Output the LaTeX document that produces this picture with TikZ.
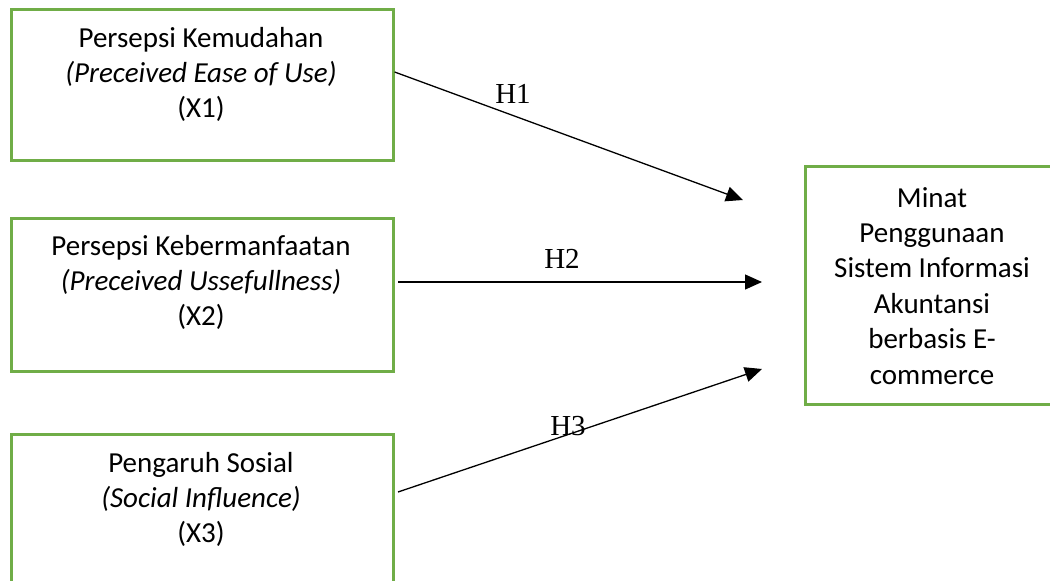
\documentclass[tikz,border=0pt]{standalone}
\usepackage{fontspec}
\setmainfont{Carlito}
\newfontfamily\timesfont{Liberation Serif}
\usetikzlibrary{arrows.meta}
\definecolor{boxgreen}{HTML}{70AD47}
\begin{document}
\begin{tikzpicture}[x=1pt,y=-1pt,
  box/.style={draw=boxgreen, line width=2.6pt, minimum width=382pt, minimum height=151pt, anchor=north west, inner sep=0pt},
  txt/.style={align=center, font=\fontsize{29}{35.4}\selectfont, anchor=base, inner sep=0pt},
  hyp/.style={font=\timesfont\fontsize{29}{35}\selectfont, inner sep=0pt, anchor=base},
  arr/.style={line width=1.3pt, -{Triangle[length=17pt,width=15pt]}}]
\useasboundingbox (0,0) rectangle (1050,581);
\clip (0,0) rectangle (1050,581);
% boxes
\node[box] (b1) at (10,8) {};
\node[box, minimum height=153pt] (b2) at (10,217) {};
\node[box, minimum height=170pt] (b3) at (10,433) {};
\node[box, minimum width=256pt, minimum height=238pt] (y) at (804,165) {};
% texts (anchor base = baseline of last line)
\node[txt] (t1) at (201,117.8) {Persepsi Kemudahan\\\textit{(Preceived Ease of Use)}\\(X1)};
\node[txt] (t2) at (201,325.8) {Persepsi Kebermanfaatan\\\textit{(Preceived Ussefullness)}\\(X2)};
\node[txt] (t3) at (201,542.8) {Pengaruh Sosial\\\textit{(Social Influence)}\\(X3)};
\node[txt] (ty) at (932,384) {Minat\\Penggunaan\\Sistem Informasi\\Akuntansi\\berbasis E-\\commerce};
% connector ends
\coordinate (s1) at (b1.east |- 0,72);
\coordinate (e1) at (743,200);
\coordinate (s2) at (398,282);
\coordinate (e2) at (762,282);
\coordinate (s3) at (398,492);
\coordinate (e3) at (762,369);
\draw[arr] (s1) -- (e1);
\draw[arr] (s2) -- (e2);
\draw[arr] (s3) -- (e3);
% labels
\node[hyp] (h1) at (513,103) {H1};
\node[hyp] (h2) at (562,268) {H2};
\node[hyp] (h3) at (568,435) {H3};
\end{tikzpicture}
\end{document}
